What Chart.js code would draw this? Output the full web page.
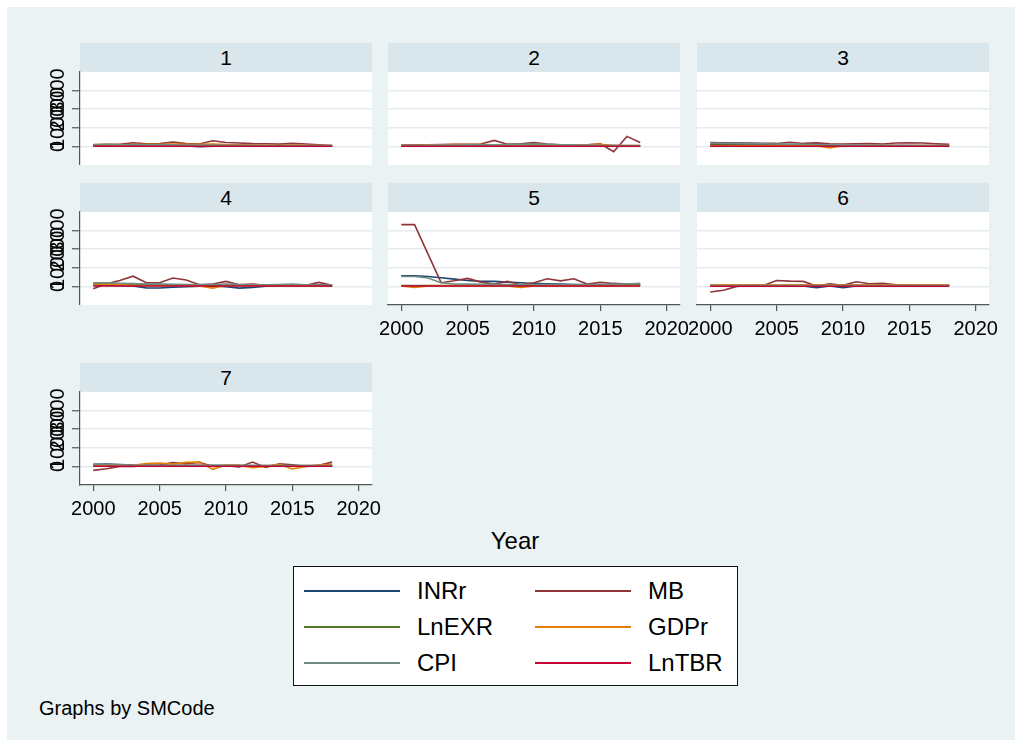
<!DOCTYPE html>
<html>
<head>
<meta charset="utf-8">
<script src="https://cdn.jsdelivr.net/npm/chart.js@4.4.0/dist/chart.umd.min.js"></script>
<style>
  body { margin: 0; background: #fff; font-family: "Liberation Sans", Arial, sans-serif; }
  #frame { position: absolute; left: 7px; top: 7px; width: 1008px; height: 733px; background: #eaf2f3; }
  .strip { position: absolute; background: #d9e6eb; color: #000; font-size: 21px; text-align: center; }
  canvas { position: absolute; }
  #xtitle { position: absolute; left: 415px; width: 200px; top: 527px; text-align: center; font-size: 24px; }
  #legend { position: absolute; left: 293px; top: 566px; width: 443px; height: 118px; background: #fff; border: 1.5px solid #111; }
  .item { position: absolute; font-size: 24px; height: 30px; line-height: 30px; }
  .item span { position: absolute; left: 0; top: 14px; width: 96px; height: 2px; }
  .item b { position: absolute; left: 113px; top: 0; font-weight: normal; white-space: nowrap; }
  #note { position: absolute; left: 39px; top: 697px; font-size: 20px; }
</style>
</head>
<body>
<div id="frame"></div>
<div id="panels"></div>
<div id="xtitle">Year</div>
<div id="legend"></div>
<div id="note">Graphs by SMCode</div>

<script>
// years on the x axis, one value per year for each panel
const years = [2000, 2001, 2002, 2003, 2004, 2005, 2006, 2007, 2008, 2009, 2010, 2011, 2012, 2013, 2014, 2015, 2016, 2017, 2018];
const xTicks = [2000, 2005, 2010, 2015, 2020];
const yTicks = [0, 1000, 2000, 3000];
const panelNames = ['1', '2', '3', '4', '5', '6', '7'];

const seriesNames = ['INRr', 'MB', 'LnEXR', 'GDPr', 'CPI', 'LnTBR'];
const seriesColors = ['#1a476f', '#90353b', '#55752f', '#e37e00', '#6e8e84', '#c10534'];

// one row per panel (SMCode 1..7)
const inrr = [
    [60, 70, 60, 50, 40, 30, 30, 20, -20, 10, 30, 20, 20, 20, 20, 20, 20, 10, 10],
    [40, 40, 40, 50, 50, 50, 60, 60, 70, 80, 120, 60, 50, 50, 60, 50, 40, 30, 30],
    [120, 110, 100, 90, 80, 70, 60, 60, 50, 40, 30, 30, 30, 30, 30, 30, 30, 30, 30],
    [90, 70, 40, 20, -80, -90, -40, -20, 10, 30, -20, -90, -50, 10, 20, 30, 30, 20, 10],
    [570, 570, 535, 465, 390, 320, 270, 270, 230, 200, 160, 140, 125, 105, 90, 90, 90, 100, 125],
    [30, 30, 40, 40, 30, 20, 20, 20, -70, 20, -70, 20, 30, 30, 30, 30, 30, 30, 30],
    [110, 125, 100, 70, 60, 50, 50, 50, 40, 40, 40, 30, 30, 30, 30, 30, 30, 30, 30]
];
const mb = [
    [90, 110, 110, 200, 140, 150, 230, 150, 130, 300, 210, 180, 150, 140, 120, 160, 130, 80, 40],
    [70, 80, 80, 100, 110, 110, 130, 320, 120, 140, 210, 120, 90, 80, 90, 140, -290, 540, 210],
    [210, 200, 190, 180, 170, 160, 220, 160, 190, 140, 130, 140, 150, 130, 180, 190, 180, 140, 110],
    [-125, 140, 320, 550, 200, 200, 450, 340, 90, 125, 270, 90, 125, 55, 55, 90, 55, 215, 55],
    [3320, 3320, 1760, 200, 300, 430, 230, 125, 270, 90, 200, 410, 300, 410, 125, 215, 160, 125, 90],
    [-300, -210, 0, 55, 55, 320, 285, 270, 20, 140, 55, 250, 140, 160, 90, 55, 55, 55, 55],
    [-215, -125, 0, 0, 55, 70, 200, 140, 215, 0, 35, -35, 230, -55, 140, 90, 0, 55, 230]
];
const lnexr = [
    [30, 30, 30, 30, 30, 30, 30, 30, 30, 30, 30, 30, 30, 30, 30, 30, 30, 30, 30],
    [30, 30, 30, 30, 30, 30, 30, 30, 30, 30, 30, 30, 30, 30, 30, 30, 30, 30, 30],
    [40, 40, 40, 40, 40, 40, 40, 40, 40, 40, 40, 40, 40, 40, 40, 40, 40, 40, 40],
    [150, 140, 130, 120, 110, 100, 90, 80, 70, 70, 60, 60, 60, 60, 60, 60, 60, 60, 60],
    [40, 40, 40, 40, 40, 40, 40, 40, 40, 40, 40, 40, 40, 40, 50, 50, 60, 70, 80],
    [60, 60, 60, 60, 60, 60, 60, 60, 60, 60, 60, 60, 60, 60, 60, 60, 60, 60, 60],
    [60, 60, 50, 40, 40, 40, 40, 40, 40, 40, 40, 40, 40, 40, 40, 40, 40, 40, 40]
];
const gdpr = [
    [90, 100, 80, 100, 110, 110, 120, 110, 110, 130, 100, 90, 80, 60, 60, 70, 60, 50, 50],
    [60, 60, 70, 90, 100, 100, 100, 90, 90, 80, 100, 90, 80, 90, 90, 110, 40, 40, 40],
    [40, 50, 50, 40, 50, 40, 40, 50, 40, -80, 40, 50, 40, 40, 40, 30, 40, 40, 40],
    [125, 110, 80, 60, 50, 40, 60, 50, 30, -90, 60, 50, 40, 40, 50, 40, 30, 30, 30],
    [20, -60, 20, 30, 40, 40, 30, 30, 20, -60, 30, 20, 20, 20, 20, 10, 10, 20, 30],
    [70, 70, 70, 70, 70, 70, 70, 70, 70, 60, 70, 70, 70, 70, 70, 70, 70, 70, 70],
    [80, 60, 40, 60, 160, 180, 125, 215, 230, -160, 70, 70, -70, 0, 110, -140, 0, 70, 110]
];
const cpi = [
    [100, 100, 90, 90, 80, 80, 80, 70, 70, 70, 60, 60, 60, 50, 50, 50, 40, 40, 40],
    [60, 60, 60, 70, 70, 80, 90, 90, 100, 110, 130, 110, 90, 80, 70, 60, 50, 40, 40],
    [180, 170, 160, 150, 140, 130, 120, 110, 100, 90, 80, 70, 60, 60, 60, 60, 50, 50, 40],
    [200, 190, 170, 150, 130, 120, 110, 100, 100, 100, 120, 100, 90, 80, 100, 130, 90, 80, 70],
    [535, 535, 450, 200, 125, 120, 110, 110, 100, 100, 100, 100, 100, 100, 100, 100, 110, 130, 160],
    [50, 50, 50, 50, 50, 50, 50, 50, 50, 50, 50, 50, 50, 50, 50, 50, 50, 50, 50],
    [110, 110, 80, 60, 60, 60, 60, 60, 60, 60, 60, 60, 50, 50, 50, 50, 50, 50, 50]
];
const lntbr = [
    [10, 10, 10, 10, 10, 10, 10, 10, 10, 10, 10, 10, 10, 10, 10, 10, 10, 10, 10],
    [10, 10, 10, 10, 10, 10, 10, 10, 10, 10, 10, 10, 10, 10, 10, 10, 10, 10, 10],
    [10, 10, 10, 10, 10, 10, 10, 10, 10, 10, 10, 10, 10, 10, 10, 10, 10, 10, 10],
    [20, 20, 20, 20, 20, 20, 20, 20, 20, 20, 20, 20, 20, 20, 20, 20, 20, 20, 20],
    [20, 20, 20, 20, 20, 20, 20, 20, 20, 20, 20, 20, 20, 20, 20, 20, 20, 20, 20],
    [10, 10, 10, 10, 10, 10, 10, 10, 10, 10, 10, 10, 10, 10, 10, 10, 10, 10, 10],
    [10, 10, 10, 10, 10, 10, 10, 10, 10, 10, 10, 10, 10, 10, 10, 10, 10, 10, 10]
];
const seriesData = [inrr, mb, lnexr, gdpr, cpi, lntbr];

// layout of the 3x3 grid (plot boxes in page pixels)
const colLeft = [80, 388, 697];
const rowTop = [72, 212, 392];
const plotW = 292, plotH = 93, stripH = 29;
const axisW = 40, padRight = 25, padTop = 12, axisH = 45;
const FONT = '"Liberation Sans", Arial, sans-serif';

// white plot area + vertical y tick labels like Stata
const panelDecor = {
    id: 'panelDecor',
    beforeDraw(chart) {
        const { ctx, chartArea: a } = chart;
        ctx.save();
        ctx.fillStyle = '#fff';
        ctx.fillRect(a.left, a.top, a.right - a.left, a.bottom - a.top);
        ctx.restore();
    },
    afterDraw(chart, args, opts) {
        if (!opts.showY) return;
        const { ctx, chartArea: a } = chart;
        const scale = chart.scales.y;
        ctx.save();
        ctx.font = '20px ' + FONT;
        ctx.fillStyle = '#000';
        ctx.textAlign = 'center';
        ctx.textBaseline = 'middle';
        scale.ticks.forEach(t => {
            ctx.save();
            ctx.translate(a.left - 22, scale.getPixelForValue(t.value));
            ctx.rotate(-Math.PI / 2);
            ctx.fillText(String(t.value), 0, 0);
            ctx.restore();
        });
        ctx.restore();
    }
};

function makePanel(idx) {
    const col = idx % 3, row = Math.floor(idx / 3);
    const showY = col === 0;
    const showX = idx >= 4;   // bottom panel of each column

    const strip = document.createElement('div');
    strip.className = 'strip';
    strip.style.left = colLeft[col] + 'px';
    strip.style.top = (rowTop[row] - stripH) + 'px';
    strip.style.width = plotW + 'px';
    strip.style.height = stripH + 'px';
    strip.style.lineHeight = stripH + 'px';
    strip.textContent = panelNames[idx];
    document.getElementById('panels').appendChild(strip);

    const canvas = document.createElement('canvas');
    canvas.width = axisW + plotW + padRight;
    canvas.height = padTop + plotH + (showX ? axisH : 0);
    canvas.style.left = (colLeft[col] - axisW) + 'px';
    canvas.style.top = (rowTop[row] - padTop) + 'px';
    document.getElementById('panels').appendChild(canvas);

    const datasets = seriesNames.map((name, s) => ({
        label: name,
        data: years.map((yr, i) => ({ x: yr, y: seriesData[s][idx][i] })),
        borderColor: seriesColors[s],
        borderWidth: 1.6,
        pointRadius: 0,
        fill: false,
        tension: 0,
        order: seriesNames.length - s
    }));

    new Chart(canvas, {
        type: 'line',
        data: { datasets },
        plugins: [panelDecor],
        options: {
            responsive: false,
            animation: false,
            layout: { padding: { left: 0, top: padTop, right: padRight, bottom: 0 } },
            plugins: {
                legend: { display: false },
                tooltip: { enabled: false },
                panelDecor: { showY }
            },
            scales: {
                x: {
                    type: 'linear',
                    min: 1999,
                    max: 2021,
                    afterBuildTicks: s => { s.ticks = xTicks.map(v => ({ value: v })); },
                    afterFit: s => { s.height = showX ? axisH : 0; s.paddingLeft = 0; s.paddingRight = 0; },
                    ticks: {
                        display: showX,
                        autoSkip: false,
                        maxRotation: 0,
                        padding: 6,
                        color: '#000',
                        font: { family: FONT, size: 20 },
                        callback: v => String(v)
                    },
                    grid: { display: showX, drawOnChartArea: false, drawTicks: true, tickLength: 6, color: '#555', lineWidth: 1.2 },
                    border: { display: showX, color: '#555', width: 1.2 }
                },
                y: {
                    type: 'linear',
                    min: -1000,
                    max: 4000,
                    afterBuildTicks: s => { s.ticks = yTicks.map(v => ({ value: v })); },
                    afterFit: s => { s.width = axisW; s.paddingTop = 0; s.paddingBottom = 0; },
                    ticks: { display: false },
                    grid: {
                        color: '#e4ecef',
                        lineWidth: 1.5,
                        drawTicks: showY,
                        tickLength: 8,
                        tickColor: '#555',
                        tickWidth: 1.2
                    },
                    border: { display: showY, color: '#555', width: 1.2 }
                }
            }
        }
    });
}

for (let i = 0; i < panelNames.length; i++) makePanel(i);

// legend, two columns filled row by row
const legend = document.getElementById('legend');
seriesNames.forEach((name, s) => {
    const item = document.createElement('div');
    item.className = 'item';
    item.style.left = (s % 2 === 0 ? 10 : 241) + 'px';
    item.style.top = (9 + Math.floor(s / 2) * 36) + 'px';
    item.innerHTML = '<span style="background:' + seriesColors[s] + '"></span><b>' + name + '</b>';
    legend.appendChild(item);
});
</script>
</body>
</html>
